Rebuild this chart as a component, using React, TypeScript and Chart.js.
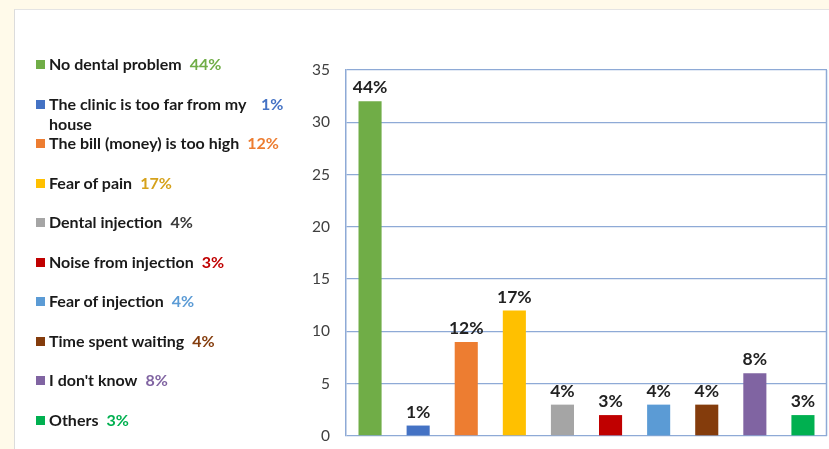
import React, { useEffect, useRef } from "react";
import { Chart, registerables } from "chart.js";

Chart.register(...registerables);

const categories = [
  "No dental problem",
  "The clinic is too far from my house",
  "The bill (money) is too high",
  "Fear of pain",
  "Dental injection",
  "Noise from injection",
  "Fear of injection",
  "Time spent waiting",
  "I don't know",
  "Others",
];
const counts = [32, 1, 9, 12, 3, 2, 3, 3, 6, 2];
const percentLabels = ["44%", "1%", "12%", "17%", "4%", "3%", "4%", "4%", "8%", "3%"];
const yMax = 35;
const yStep = 5;
const barColors = ["#70ad47", "#4472c4", "#ed7d31", "#ffc000", "#a5a5a5", "#c00000", "#5b9bd5", "#843c0c", "#8064a2", "#00b050"];
const pctColors = ["#70ad47", "#4472c4", "#ed7d31", "#d6a21c", "#3a3a3a", "#c00000", "#5b9bd5", "#843c0c", "#8064a2", "#00b050"];

const GRID = "#8eaad6";

const labelPlugin = {
  id: "barLabels",
  afterDatasetsDraw(chart: any) {
    const ctx = chart.ctx;
    const meta = chart.getDatasetMeta(0);
    ctx.save();
    ctx.font = "bold 17.5px Lato";
    ctx.fillStyle = "#222222";
    ctx.textAlign = "center";
    ctx.textBaseline = "alphabetic";
    meta.data.forEach((el: any, i: number) => {
      ctx.fillText(percentLabels[i], el.x, el.y - 8);
    });
    ctx.restore();
  },
};

const borderPlugin = {
  id: "rightBorder",
  afterDraw(chart: any) {
    const { ctx, chartArea } = chart;
    ctx.save();
    ctx.strokeStyle = GRID;
    ctx.lineWidth = 1.5;
    ctx.beginPath();
    ctx.moveTo(chartArea.right - 0.5, chartArea.top);
    ctx.lineTo(chartArea.right - 0.5, chartArea.bottom);
    ctx.stroke();
    ctx.restore();
  },
};

export default function App() {
  const ref = useRef<HTMLCanvasElement | null>(null);

  useEffect(() => {
    if (!ref.current) return;
    const chart = new Chart(ref.current, {
      type: "bar",
      data: {
        labels: categories,
        datasets: [
          {
            data: counts,
            backgroundColor: barColors,
            barPercentage: 0.48,
            categoryPercentage: 1,
          },
        ],
      },
      options: {
        animation: false,
        responsive: false,
        maintainAspectRatio: false,
        layout: { padding: { left: 286, top: 70, right: 2, bottom: 13 } },
        plugins: { legend: { display: false }, tooltip: { enabled: false } },
        scales: {
          x: { display: false },
          y: {
            min: 0,
            max: yMax,
            ticks: {
              stepSize: yStep,
              padding: 16,
              color: "#404040",
              font: { family: "Lato", size: 15.5 },
            },
            grid: { color: GRID, lineWidth: 1.3, drawTicks: false },
            border: { color: GRID, width: 1.5 },
            afterFit: (s: any) => {
              s.width = 60;
              s.paddingTop = 0;
              s.paddingBottom = 0;
            },
          },
        },
      },
      plugins: [labelPlugin, borderPlugin],
    });
    return () => chart.destroy();
  }, []);

  return (
    <div
      style={{
        position: "fixed",
        left: 0,
        top: 0,
        width: 829,
        height: 449,
        background: "#fffaea",
        overflow: "hidden",
        fontFamily: "Lato",
      }}
    >
      <div
        style={{
          position: "absolute",
          left: 14,
          top: 9,
          right: 0,
          bottom: 0,
          background: "#ffffff",
          borderLeft: "1px solid #dcdcdc",
          borderTop: "1px solid #e4e4e4",
        }}
      />
      <canvas ref={ref} width={829} height={449} style={{ position: "absolute", left: 0, top: 0 }} />
      {categories.map((c, i) => (
        <div
          key={c}
          style={{
            position: "absolute",
            left: 36,
            top: 54 + i * 39.55,
            display: "flex",
            alignItems: "flex-start",
            fontSize: 16,
            fontWeight: 700,
            lineHeight: "20px",
            color: "#1a1a1a",
          }}
        >
          <span
            style={{
              display: "inline-block",
              flex: "none",
              width: 9,
              height: 9,
              background: barColors[i],
              marginTop: 6,
              marginRight: 4,
            }}
          />
          <span style={{ maxWidth: 204 }}>{c}</span>
          <span style={{ color: pctColors[i], marginLeft: 8, whiteSpace: "nowrap" }}>{percentLabels[i]}</span>
        </div>
      ))}
    </div>
  );
}
